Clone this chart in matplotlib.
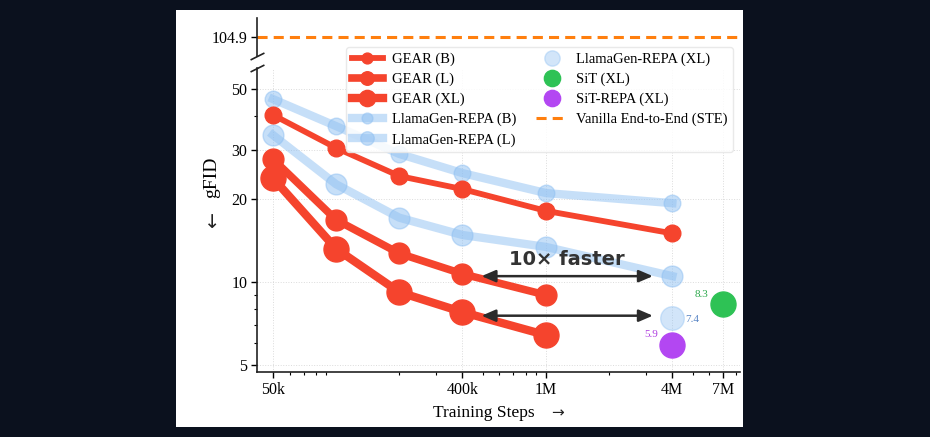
import matplotlib
matplotlib.use("Agg")
import matplotlib.pyplot as plt
from matplotlib.patches import Rectangle
from matplotlib.ticker import FixedLocator, FixedFormatter, NullFormatter, LogLocator

plt.rcParams['font.family'] = ['Liberation Serif', 'DejaVu Serif']

# data
steps = [50e3, 100e3, 200e3, 400e3, 1e6, 4e6]
gear_b = [40.3, 30.6, 24.2, 21.7, 18.1, 15.0]
gear_l = [27.9, 16.8, 12.7, 10.7, 8.97]
gear_xl = [23.8, 13.2, 9.19, 7.78, 6.42]
repa_b = [46.0, 36.7, 29.1, 24.8, 21.0, 19.3]
repa_l = [34.1, 22.6, 17.1, 14.8, 13.4, 10.5]
repa_xl_step, repa_xl_fid = 4e6, 7.4
sit_step, sit_fid = 7e6, 8.3
sitrepa_step, sitrepa_fid = 4e6, 5.9
vanilla_fid = 104.9

xticks = [50e3, 400e3, 1e6, 4e6, 7e6]
xticklabels = ['50k', '400k', '1M', '4M', '7M']
yticks = [5, 10, 20, 30, 50]

W, H = 930, 437
fig = plt.figure(figsize=(W / 100, H / 100), dpi=100, facecolor='#0b111e')
fig.patches.append(Rectangle((176 / W, 1 - 427 / H), (743 - 176) / W, (427 - 10) / H,
                             transform=fig.transFigure, facecolor='white',
                             edgecolor='none', zorder=-10))

left, right = 257 / W, 740 / W
ax = fig.add_axes([left, 1 - 372 / H, right - left, (372 - 68) / H])
ax_top = fig.add_axes([left, 1 - 56 / H, right - left, (56 - 18) / H], sharex=ax)
ax.patch.set_alpha(0)
ax_top.patch.set_alpha(0)

red = '#f5442d'
blue = '#8fc0f2'

ax.plot(steps[:len(repa_b)], repa_b, color=blue, alpha=0.5, lw=6, marker='o', ms=12,
        label='LlamaGen-REPA (B)', zorder=2)
ax.plot(steps[:len(repa_l)], repa_l, color=blue, alpha=0.5, lw=6, marker='o', ms=15,
        label='LlamaGen-REPA (L)', zorder=2)
ax.plot(steps[:len(gear_b)], gear_b, color=red, lw=4.2, marker='o', ms=12,
        label='GEAR (B)', zorder=4)
ax.plot(steps[:len(gear_l)], gear_l, color=red, lw=5.5, marker='o', ms=15,
        label='GEAR (L)', zorder=4)
ax.plot(steps[:len(gear_xl)], gear_xl, color=red, lw=6, marker='o', ms=18,
        label='GEAR (XL)', zorder=4)
ax.plot([repa_xl_step], [repa_xl_fid], color=blue, alpha=0.4, ls='none', marker='o', ms=17,
        label='LlamaGen-REPA (XL)', zorder=3)
ax.plot([sit_step], [sit_fid], color='#2ec255', ls='none', marker='o', ms=18,
        label='SiT (XL)', zorder=3)
ax.plot([sitrepa_step], [sitrepa_fid], color='#b347f2', ls='none', marker='o', ms=18,
        label='SiT-REPA (XL)', zorder=3)
van = ax_top.axhline(vanilla_fid, color='#ff7f0e', ls='--', lw=2.2, dashes=(3.3, 2.0),
                     label='Vanilla End-to-End (STE)')

# value labels
ax.annotate(f'{sit_fid}', (sit_step, sit_fid), xytext=(-16, 7), textcoords='offset points',
            ha='center', va='center', fontsize=8, color='#2aa84a')
ax.annotate(f'{repa_xl_fid}', (repa_xl_step, repa_xl_fid), xytext=(14, -1), textcoords='offset points',
            ha='center', va='center', fontsize=8, color='#5a86c5')
ax.annotate(f'{sitrepa_fid}', (sitrepa_step, sitrepa_fid), xytext=(-15, 8), textcoords='offset points',
            ha='center', va='center', fontsize=8, color='#b040e0')

# speed-up arrows
for yy in [10.5, 7.55]:
    ax.annotate('', xy=(3.23e6, yy), xytext=(4.93e5, yy),
                arrowprops=dict(arrowstyle='<|-|>,head_length=0.7,head_width=0.3',
                                lw=1.8, color='#2b2b2b', mutation_scale=12,
                                shrinkA=0, shrinkB=0), zorder=5)
ax.text(1.256e6, 12.1, '10× faster', ha='center', va='center', fontsize=14,
        fontweight='bold', family='DejaVu Sans', color='#333333', zorder=6)

# axes setup
ax.set_xscale('log')
ax.set_yscale('log')
ax.set_xlim(42e3, 8.4e6)
ax.set_ylim(4.72, 59.6)
ax.xaxis.set_major_locator(FixedLocator(xticks))
ax.xaxis.set_major_formatter(FixedFormatter(xticklabels))
ax.xaxis.set_minor_locator(LogLocator(subs='auto'))
ax.xaxis.set_minor_formatter(NullFormatter())
ax.yaxis.set_major_locator(FixedLocator(yticks))
ax.yaxis.set_major_formatter(FixedFormatter([str(v) for v in yticks]))
ax.yaxis.set_minor_locator(LogLocator(subs='auto'))
ax.yaxis.set_minor_formatter(NullFormatter())
ax.tick_params(which='major', length=4, width=1, labelsize=11.5, pad=3)
ax.tick_params(which='minor', length=2.5, width=0.8)
ax.grid(True, which='major', ls=':', color='#cccccc', lw=0.7, alpha=0.7)
for s in ['top', 'right']:
    ax.spines[s].set_visible(False)
for s in ['left', 'bottom']:
    ax.spines[s].set_linewidth(1.2)
    ax.spines[s].set_color('#222222')

ax_top.set_ylim(vanilla_fid - 2, vanilla_fid + 2)
ax_top.set_yticks([vanilla_fid])
ax_top.set_yticklabels([f'{vanilla_fid}'])
ax_top.yaxis.set_minor_locator(FixedLocator([]))
ax_top.tick_params(axis='y', which='major', length=4, width=1, labelsize=11.5, pad=3)
ax_top.tick_params(axis='x', which='both', bottom=False, labelbottom=False)
for s in ['top', 'right', 'bottom']:
    ax_top.spines[s].set_visible(False)
ax_top.spines['left'].set_linewidth(1.2)
ax_top.spines['left'].set_color('#222222')

# break marks
kw = dict(marker=[(-1, -0.5), (1, 0.5)], markersize=10, linestyle='none',
          color='#222222', mec='#222222', mew=1.2, clip_on=False)
ax_top.plot([0], [0], transform=ax_top.transAxes, **kw)
ax.plot([0], [1], transform=ax.transAxes, **kw)

# labels (arrows drawn separately so they come out the right size)
fig.text(212 / W, 1 - 177 / H, 'gFID', rotation=90, ha='center', va='center', fontsize=14)
fig.text(212 / W, 1 - 222 / H, '↓', ha='center', va='center', fontsize=14,
         family='DejaVu Sans', color='#222222')
fig.text(484 / W, 1 - 413 / H, 'Training Steps', ha='center', va='center', fontsize=12.5)
fig.text(557 / W, 1 - 413 / H, '→', ha='center', va='center', fontsize=11,
         family='DejaVu Sans', color='#222222')

handles, labels = ax.get_legend_handles_labels()
order = ['GEAR (B)', 'GEAR (L)', 'GEAR (XL)', 'LlamaGen-REPA (B)', 'LlamaGen-REPA (L)',
         'LlamaGen-REPA (XL)', 'SiT (XL)', 'SiT-REPA (XL)']
hmap = dict(zip(labels, handles))
hs = [hmap[k] for k in order] + [van]
ls = order + ['Vanilla End-to-End (STE)']
fig.legend(hs, ls, ncol=2, loc='upper right', bbox_to_anchor=(733 / W, 1 - 47 / H),
           borderaxespad=0, fontsize=10.5, markerscale=0.65, labelspacing=0.45,
           handlelength=2.1, handletextpad=0.6, columnspacing=1.4, frameon=True,
           fancybox=True, framealpha=0.85, edgecolor='#e6e6e6', borderpad=0.4)

fig.savefig('out.png', dpi=100, facecolor=fig.get_facecolor())
